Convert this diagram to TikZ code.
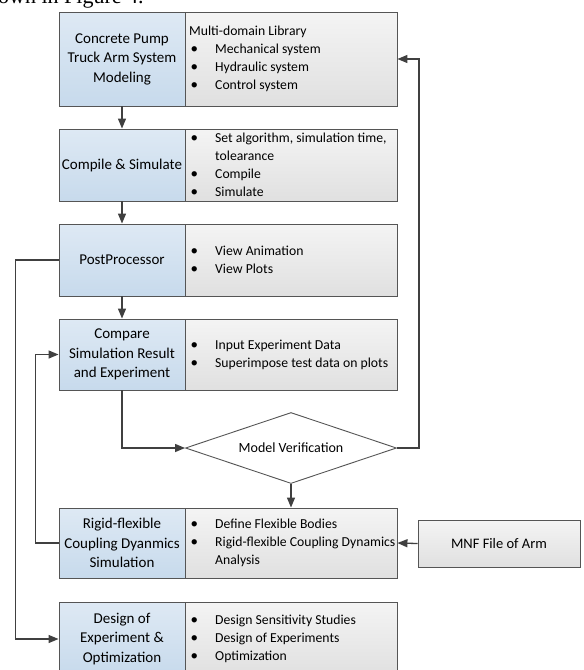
\documentclass[tikz,border=0pt]{standalone}
\usepackage{fontspec}
\setmainfont{Carlito}
\newfontfamily\serifcap{Liberation Serif}
\usetikzlibrary{arrows.meta,shapes.geometric}
\definecolor{bluetop}{RGB}{222,233,244}
\definecolor{bluebot}{RGB}{199,218,236}
\definecolor{graytop}{RGB}{244,244,244}
\definecolor{graybot}{RGB}{224,224,224}
\definecolor{edge}{RGB}{85,85,85}
\definecolor{arr}{RGB}{64,64,64}
\newcommand\bul{\hspace*{1.5pt}\makebox[24.5pt][l]{\fontsize{15}{15}\selectfont •}}
\newcommand\cont{\hspace*{26pt}}
\tikzset{
  bluebox/.style={draw=edge,line width=0.9pt,rectangle,top color=bluetop,bottom color=bluebot,
    minimum width=126pt,inner sep=0pt,align=center,font=\fontsize{15}{19.5}\selectfont},
  graybox/.style={draw=edge,line width=0.9pt,rectangle,top color=graytop,bottom color=graybot,
    minimum width=212pt,inner sep=0pt},
  grtext/.style={anchor=west,align=left,inner sep=0pt,font=\fontsize{13.7}{18}\selectfont},
  conn/.style={draw=arr,line width=1.3pt},
  arrow/.style={conn,-{Triangle[length=10pt,width=8pt]}},
}
\begin{document}
\begin{tikzpicture}[x=1pt,y=-1pt]
\useasboundingbox (0,0) rectangle (584,670);
\clip (0,0) rectangle (584,670);
\node[anchor=base west,inner sep=0pt,font=\serifcap\fontsize{22}{22}\selectfont] (cap) at (-2,3) {own in Figure 4.};
% gray boxes
\node[graybox,minimum height=94pt] (g1) at (291,59) {};
\node[graybox,minimum height=72pt] (g2) at (291,165) {};
\node[graybox,minimum height=72pt] (g3) at (291,260) {};
\node[graybox,minimum height=71pt] (g4) at (291,354.5) {};
\node[graybox,minimum height=70pt] (g5) at (291,543) {};
\node[graybox,minimum height=74pt] (g6) at (291,639) {};
% blue boxes
\node[bluebox,minimum height=94pt] (b1) at (122,59) {Concrete Pump\\Truck Arm System\\Modeling};
\node[bluebox,minimum height=72pt] (b2) at (122,165) {Compile \& Simulate};
\node[bluebox,minimum height=72pt] (b3) at (122,260) {PostProcessor};
\node[bluebox,minimum height=71pt] (b4) at (122,354.5) {Compare\\Simulation Result\\and Experiment};
\node[bluebox,minimum height=70pt] (b5) at (122,543) {Rigid-flexible\\Coupling Dyanmics\\Simulation};
\node[bluebox,minimum height=74pt] (b6) at (122,639) {Design of\\Experiment \&\\Optimization};
% gray texts
\node[grtext] (t1) at (189,59) {Multi-domain Library\\\bul Mechanical system\\\bul Hydraulic system\\\bul Control system};
\node[grtext] (t2) at (189,165) {\bul Set algorithm, simulation time,\\\cont tolearance\\\bul Compile\\\bul Simulate};
\node[grtext] (t3) at (189,260) {\bul View Animation\\\bul View Plots};
\node[grtext] (t4) at (189,354.5) {\bul Input Experiment Data\\\bul Superimpose test data on plots};
\node[grtext] (t5) at (189,543) {\bul Define Flexible Bodies\\\bul Rigid-flexible Coupling Dynamics\\\cont Analysis};
\node[grtext] (t6) at (189,639) {\bul Design Sensitivity Studies\\\bul Design of Experiments\\\bul Optimization};
% diamond
\node[diamond,draw=edge,line width=0.9pt,fill=white,aspect=3,inner sep=0pt,minimum width=211pt,minimum height=71pt,font=\fontsize{14}{15}\selectfont] (d) at (291,448) {Model Verification};
% MNF
\node[graybox,minimum width=162pt,minimum height=47pt,font=\fontsize{14.5}{16}\selectfont] (mnf) at (499,543.5) {MNF File of Arm};
% connectors
\draw[arrow] (b1.south) -- (b2.north);
\draw[arrow] (b2.south) -- (b3.north);
\draw[arrow] (b3.south) -- (b4.north);
\draw[arrow] (b4.south) |- (d.west);
\draw[arrow] (d.east) -- ++(22,0) |- (g1.east);
\draw[arrow] (d.south) -- (g5.north);
\draw[arrow] (mnf.west) -- (g5.east);
\draw[arrow] (b3.west) -- ++(-43,0) |- (b6.west);
\draw[arrow] (b5.west) -- ++(-23,0) |- (b4.west);
\end{tikzpicture}
\end{document}
